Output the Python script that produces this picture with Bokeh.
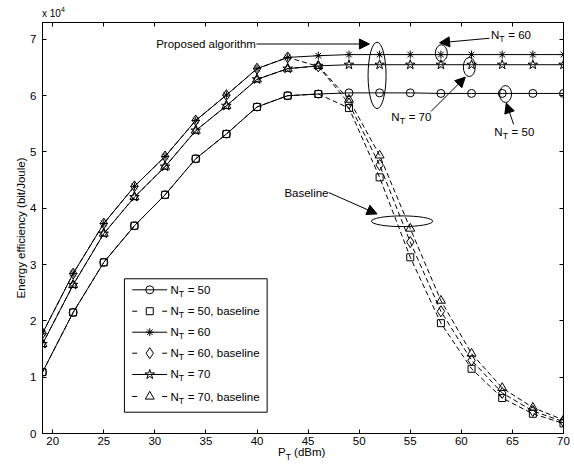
from bokeh.plotting import figure
from bokeh.layouts import column
from bokeh.models import (Range1d, LinearAxis, Label, Arrow, NormalHead, FixedTicker,
                          CustomJSTickFormatter, Div)
from bokeh.embed import file_html
from bokeh.resources import INLINE

# ---------------- data (energy efficiency in units of 10^4 bit/Joule) ----------------
pt_dbm = [19, 22, 25, 28, 31, 34, 37, 40, 43, 46, 49, 52, 55, 58, 61, 64, 67, 70]

ee_nt50 = [1.09, 2.15, 3.04, 3.69, 4.24, 4.88, 5.32, 5.80, 6.00, 6.03, 6.05, 6.05,
           6.05, 6.04, 6.04, 6.04, 6.04, 6.04]
ee_nt50_base = [1.09, 2.15, 3.04, 3.69, 4.24, 4.88, 5.32, 5.80, 6.00, 6.03, 5.78, 4.55,
                3.13, 1.96, 1.15, 0.63, 0.35, 0.18]
ee_nt60 = [1.78, 2.84, 3.73, 4.39, 4.92, 5.56, 6.01, 6.48, 6.68, 6.71, 6.73, 6.73,
           6.73, 6.73, 6.73, 6.73, 6.73, 6.73]
ee_nt60_base = [1.78, 2.84, 3.73, 4.39, 4.92, 5.56, 6.01, 6.48, 6.68, 6.52, 5.86, 4.77,
                3.40, 2.17, 1.30, 0.72, 0.40, 0.21]
ee_nt70 = [1.59, 2.64, 3.55, 4.20, 4.74, 5.38, 5.82, 6.29, 6.48, 6.53, 6.55, 6.55,
           6.55, 6.55, 6.55, 6.55, 6.55, 6.55]
ee_nt70_base = [1.59, 2.64, 3.55, 4.20, 4.74, 5.38, 5.82, 6.29, 6.48, 6.53, 5.93, 4.94,
                3.64, 2.36, 1.42, 0.81, 0.46, 0.24]

x_ticks = [20, 25, 30, 35, 40, 45, 50, 55, 60, 65, 70]
y_ticks = [0, 1, 2, 3, 4, 5, 6, 7]

legend_labels = [("N", "T", "= 50"), ("N", "T", "= 50, baseline"),
                 ("N", "T", "= 60"), ("N", "T", "= 60, baseline"),
                 ("N", "T", "= 70"), ("N", "T", "= 70, baseline")]

# ---------------- styles ----------------
FONT = "Liberation Sans"
FS = 11.5
series = [
    (ee_nt50, "circle", "solid", 8),
    (ee_nt50_base, "square", "5 3", 7),
    (ee_nt60, "asterisk", "solid", 8),
    (ee_nt60_base, "diamond", "5 3", 11),
    (ee_nt70, "star", "solid", 10),
    (ee_nt70_base, "triangle", "5 3", 9),
]

TOP_DIV_H = 20
BOT_DIV_H = 14

p = figure(frame_width=521, frame_height=411,
           x_range=Range1d(19, 70), y_range=Range1d(0, 7.3),
           output_backend="svg", toolbar_location=None,
           min_border_left=42, min_border_right=11, min_border_top=22 - TOP_DIV_H,
           min_border_bottom=17, margin=0)
p.background_fill_color = "white"
p.border_fill_color = "white"
p.outline_line_color = "black"
p.outline_line_width = 1
p.xgrid.visible = False
p.ygrid.visible = False

for ax, ticks in ((p.xaxis[0], x_ticks), (p.yaxis[0], y_ticks)):
    ax.ticker = FixedTicker(ticks=ticks)
    ax.major_tick_in = 4
    ax.major_tick_out = 0
    ax.minor_tick_in = 0
    ax.minor_tick_out = 0
    ax.axis_line_color = "black"
    ax.major_tick_line_color = "black"
    ax.major_label_text_font = FONT
    ax.major_label_text_font_size = f"{FS}px"
    ax.major_label_text_color = "black"

p.xaxis.major_label_standoff = 3
p.yaxis.major_label_standoff = 6
p.yaxis.axis_label = "Energy efficiency (bit/Joule)"
p.yaxis.axis_label_text_font = FONT
p.yaxis.axis_label_text_font_size = f"{FS}px"
p.yaxis.axis_label_text_font_style = "normal"
p.yaxis.axis_label_text_color = "black"
p.yaxis.axis_label_standoff = 0

# mirror ticks on top and right (no labels)
blank = CustomJSTickFormatter(code="return ''")
for loc, ticks in (("right", y_ticks), ("above", x_ticks)):
    a = LinearAxis(ticker=FixedTicker(ticks=ticks), formatter=blank,
                   major_tick_in=4, major_tick_out=0,
                   minor_tick_in=0, minor_tick_out=0,
                   major_label_standoff=0, axis_line_color="black",
                   major_tick_line_color="black")
    p.add_layout(a, loc)

# ---------------- data lines & markers ----------------
for ys, marker, dash, size in series:
    p.line(pt_dbm, ys, line_color="black", line_width=1, line_dash=dash)
for ys, marker, dash, size in series:
    p.scatter(pt_dbm, ys, marker=marker, size=size, line_color="black",
              fill_color=None, line_width=1)


def sub_label(x, y, main, sub, rest, size=FS, dy=0):
    wm = {"N": 0.722, "P": 0.667}[main] * size
    ss = size * 0.75
    common = dict(text_font=FONT, text_color="black", text_baseline="middle",
                  text_align="left")
    p.add_layout(Label(x=x, y=y, y_offset=dy, text=main,
                       text_font_size=f"{size}px", **common))
    p.add_layout(Label(x=x, y=y, x_offset=wm, y_offset=dy - 4, text=sub,
                       text_font_size=f"{ss}px", **common))
    p.add_layout(Label(x=x, y=y, x_offset=wm + 0.611 * ss + 0.278 * size + 0.5,
                       y_offset=dy, text=rest, text_font_size=f"{size}px", **common))


# ---------------- annotations ----------------
ell_x = [51.75, 58.04, 60.78, 64.33, 54.2]
ell_y = [6.36, 6.755, 6.51, 6.03, 3.77]
ell_w = [1.76, 1.17, 1.17, 1.17, 6.0]
ell_h = [1.18, 0.30, 0.34, 0.30, 0.19]
p.ellipse(x=ell_x, y=ell_y, width=ell_w, height=ell_h, fill_color=None,
          line_color="black", line_width=1)

arrows = [(39.94, 6.918, 51.0, 6.918),
          (62.75, 7.02, 57.87, 6.94),
          (57.03, 5.72, 60.39, 6.33),
          (65.12, 5.49, 64.40, 5.87),
          (47.01, 4.28, 51.75, 3.90)]
for xs, ys, xe, ye in arrows:
    p.add_layout(Arrow(x_start=xs, y_start=ys, x_end=xe, y_end=ye, line_color="black",
                       line_width=1,
                       end=NormalHead(size=10, fill_color="black", line_color="black",
                                      line_width=1)))

txt = dict(text_font=FONT, text_font_size=f"{FS}px", text_color="black",
           text_baseline="middle", text_align="left")
p.add_layout(Label(x=30.13, y=6.918, text="Proposed algorithm", **txt))
p.add_layout(Label(x=42.68, y=4.28, text="Baseline", **txt))
sub_label(62.9, 7.07, "N", "T", "= 60")
sub_label(53.15, 5.62, "N", "T", "= 70")
sub_label(63.23, 5.36, "N", "T", "= 50")

# ---------------- legend (drawn by hand to allow subscripts) ----------------
leg_left, leg_right, leg_bottom, leg_top = 27.02, 40.99, 0.378, 2.748
leg_rows = [2.552, 2.172, 1.799, 1.426, 1.048, 0.657]
leg_line_x = [27.78, 31.20]
leg_mark_x = 29.50
leg_text_x = 31.52
p.quad(left=[leg_left], right=[leg_right], bottom=[leg_bottom], top=[leg_top],
       fill_color="white", line_color="black", line_width=1)
for (ys, marker, dash, size), ry, (m, s, r) in zip(series, leg_rows, legend_labels):
    p.line(leg_line_x, [ry, ry], line_color="black", line_width=1,
           line_dash="solid" if dash == "solid" else "5 25")
    p.scatter([leg_mark_x], [ry], marker=marker, size=size, line_color="black",
              fill_color=None, line_width=1)
    sub_label(leg_text_x, ry, m, s, r)

# ---------------- multiplier above and x-axis title below (HTML, for sup/sub) -----------
top_div = Div(
    text=('<span style="position:relative;top:2px">x 10'
          '<span style="position:relative;top:-5px;font-size:7px">4</span></span>'),
    width=574, height=TOP_DIV_H, margin=0,
    styles={"font-family": FONT, "font-size": "10px", "line-height": "24px",
            "padding-left": "42px", "color": "black", "box-sizing": "border-box",
            "overflow": "visible"})
bot_div = Div(
    text=('<span style="position:relative;top:-5px">P'
          '<span style="position:relative;top:4px;font-size:8.5px">T</span> (dBm)</span>'),
    width=574, height=BOT_DIV_H, margin=0,
    styles={"font-family": FONT, "font-size": f"{FS}px", "line-height": "14px",
            "padding-left": "278px", "color": "black", "box-sizing": "border-box",
            "overflow": "visible"})

layout = column(top_div, p, bot_div, spacing=0, margin=0)
open("out.html", "w").write(file_html(layout, INLINE))
